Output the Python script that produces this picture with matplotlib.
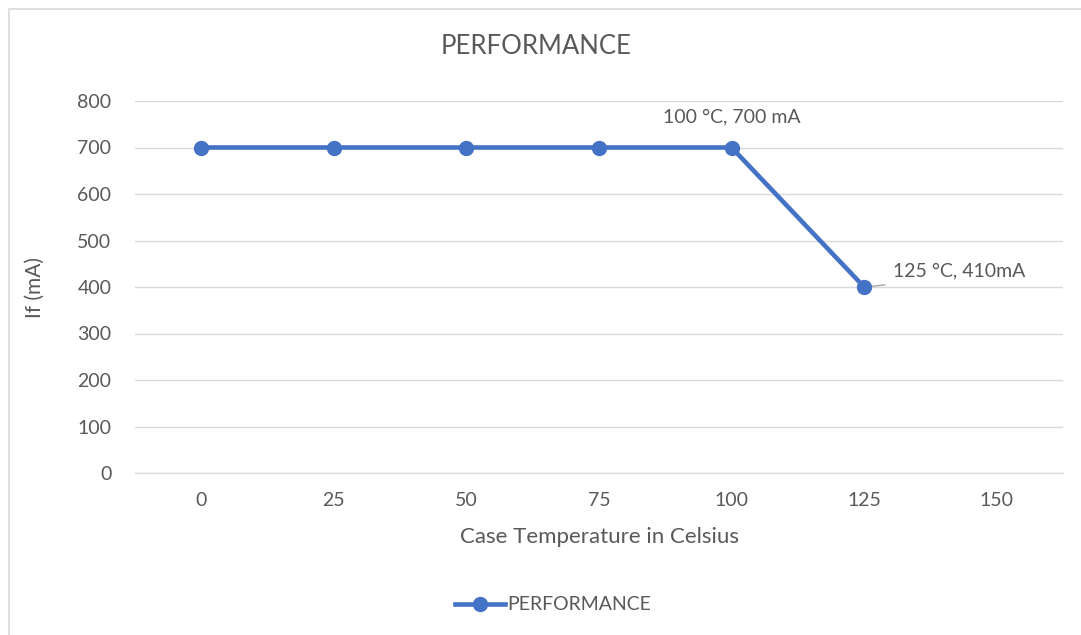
import matplotlib.pyplot as plt
from matplotlib.patches import Rectangle

plt.rcParams['font.family'] = ['Lato', 'DejaVu Sans']

# Data
categories = ['0', '25', '50', '75', '100', '125', '150']
current_ma = [700, 700, 700, 700, 700, 400]
label_texts = ['100 °C, 700 mA', '125 °C, 410mA']

blue = '#4472C4'
grey_text = '#595959'
grid_col = '#d9d9d9'

fig = plt.figure(figsize=(10.81, 6.35), dpi=100)
ax = fig.add_axes([135 / 1081, 1 - 473 / 635, (1063 - 135) / 1081, (473 - 101) / 635])

# chart area border
fig.patches.append(Rectangle((9 / 1081, -0.01), 1.1, 1 - 9 / 635 + 0.01, transform=fig.transFigure,
                             fill=False, edgecolor=grid_col, linewidth=1.2))

xs = list(range(len(current_ma)))
ax.plot(xs, current_ma, color=blue, linewidth=3.3, marker='o', markersize=10,
        label='PERFORMANCE', zorder=3)

ax.set_xlim(-0.5, len(categories) - 0.5)
ax.set_ylim(0, 800)
ax.set_xticks(range(len(categories)))
ax.set_xticklabels(categories)
ax.set_yticks(range(0, 801, 100))
ax.grid(axis='y', color=grid_col, linewidth=1)
ax.set_axisbelow(True)
for s in ['top', 'right', 'left']:
    ax.spines[s].set_visible(False)
ax.spines['bottom'].set_color(grid_col)
ax.tick_params(length=0, labelsize=14, labelcolor=grey_text)
ax.tick_params(axis='x', pad=14)
ax.tick_params(axis='y', pad=17)

fig.text(536 / 1081, 1 - 47 / 635, 'PERFORMANCE', fontsize=18.5,
         color=grey_text, ha='center', va='center')
ax.set_xlabel('Case Temperature in Celsius', fontsize=16, color=grey_text, va='center')
ax.xaxis.set_label_coords(0.5, (473 - 537) / 372)
ax.set_ylabel('If (mA)', fontsize=15, color=grey_text, va='center')
ax.yaxis.set_label_coords((35 - 135) / 928, 0.5)

# data labels
ax.annotate(label_texts[0], (4, current_ma[4]), xytext=(0, 22), textcoords='offset points',
            ha='center', va='center', fontsize=14, color=grey_text)
ax.annotate(label_texts[1], (5, current_ma[5]), xytext=(21, 11.5), textcoords='offset points',
            ha='left', va='center', fontsize=14, color=grey_text)
ax.annotate('', (5, current_ma[5]), xytext=(15, 1.5), textcoords='offset points',
            arrowprops=dict(arrowstyle='-', color='#a6a6a6', linewidth=1,
                            shrinkA=0, shrinkB=0), zorder=2)

leg = fig.legend(loc='center', bbox_to_anchor=(553 / 1081, 1 - 605 / 635), frameon=False,
                 fontsize=14, handlelength=2.6, handletextpad=0.1)
for t in leg.get_texts():
    t.set_color(grey_text)

fig.savefig('out.png', dpi=100)
